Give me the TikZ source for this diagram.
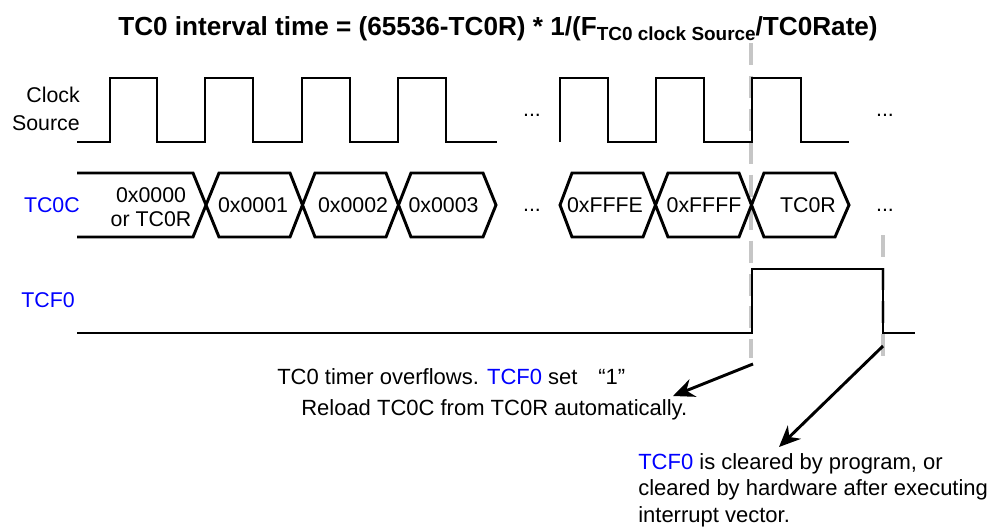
\documentclass[tikz,border=0pt]{standalone}
\usepackage{fontspec}
\setmainfont{Liberation Sans}
\usetikzlibrary{arrows.meta}
\definecolor{regblue}{RGB}{0,0,255}
\definecolor{guide}{RGB}{198,198,198}
\tikzset{
  x=0.75pt,y=-0.75pt,
  wave/.style={line width=2.2pt,line join=miter},
  guideline/.style={draw=guide,line width=2.7pt,dash pattern=on 16.5pt off 8.2pt},
  pointer/.style={line width=2.2pt,-{Stealth[length=16pt,width=14pt]}},
  label/.style={inner sep=0pt,font=\fontsize{16pt}{18pt}\selectfont},
  note/.style={inner sep=0pt,font=\fontsize{16.5pt}{19.9pt}\selectfont},
  reg/.style={label,text=regblue},
}
\newcommand{\regname}[1]{\textcolor{regblue}{#1}}
\begin{document}
\begin{tikzpicture}
\useasboundingbox (0,0) rectangle (993,526);
\coordinate (g1a) at (751,43); \coordinate (g1b) at (751,358);
\coordinate (g2a) at (883,235); \coordinate (g2b) at (883,357);
\draw[guideline] (g1a) -- (g1b);
\draw[guideline] (g2a) -- (g2b);
\node[inner sep=0pt,font=\bfseries\fontsize{19.6pt}{22pt}\selectfont] (title) at (498,29) {TC0 interval time = (65536-TC0R) * 1/(F\raisebox{-3.5pt}{\fontsize{14.2pt}{16pt}\selectfont TC0 clock Source}/TC0Rate)};
\node[label,align=right,anchor=east] (clk) at (80,109) {Clock\\[3.5pt]Source};
\node[reg,anchor=east] (tc0c) at (80,205) {TC0C};
\node[reg] (tcf0) at (48,300) {TCF0};
\draw[wave] (77,142) -- (110,142) -- (110,78) -- (157,78) -- (157,142) -- (205,142) -- (205,78) -- (253,78) -- (253,142) -- (302,142) -- (302,78) -- (350,78) -- (350,142) -- (398,142) -- (398,78) -- (446,78) -- (446,142) -- (497,142);
\draw[wave] (560,142) -- (560,78) -- (608,78) -- (608,142) -- (656,142) -- (656,78) -- (704,78) -- (704,142) -- (752,142) -- (752,78) -- (801,78) -- (801,142) -- (849,142);
\draw[wave] (77,173) -- (193,173) -- (219,237) -- (290,237) -- (315,173) -- (386,173) -- (411,237) -- (483,237) -- (496,205) -- (483,173) -- (411,173) -- (386,237) -- (315,237) -- (290,173) -- (219,173) -- (193,237) -- (77,237);
\draw[wave] (560,205) -- (572,173) -- (643,173) -- (668,237) -- (739,237) -- (764,173) -- (835,173) -- (849,205) -- (835,237) -- (764,237) -- (739,173) -- (668,173) -- (643,237) -- (572,237) -- cycle;
\draw[wave] (77,333) -- (752,333) -- (752,269) -- (883,269) -- (883,333) -- (915,333);
\node[label,align=center] (v0) at (151,207) {0x0000\\[0.5pt]or TC0R};
\node[label] (v1) at (253,205) {0x0001};
\node[label] (v2) at (353,205) {0x0002};
\node[label] (v3) at (443.5,205) {0x0003};
\node[label] (vfe) at (605,205) {0xFFFE};
\node[label] (vff) at (704,205) {0xFFFF};
\node[label] (vr) at (808,205) {TC0R};
\node[label] (d1) at (532,115) {...};
\node[label] (d2) at (885,115) {...};
\node[label] (d3) at (532,210) {...};
\node[label] (d4) at (885,210) {...};
\node[note,anchor=west] (n1) at (277,377) {TC0 timer overflows. \regname{TCF0} set \hspace{11pt}“1”};
\node[note,anchor=west] (n2) at (301,410) {Reload TC0C from TC0R automatically.};
\node[note,anchor=west,align=left] (n3) at (638,490) {\regname{TCF0} is cleared by program, or\\cleared by hardware after executing\\interrupt vector.};
\coordinate (a1) at (753,364); \coordinate (a2) at (883,346);
\draw[pointer] (a1) -- (673,396);
\draw[pointer] (a2) -- (779,447);
\end{tikzpicture}
\end{document}
